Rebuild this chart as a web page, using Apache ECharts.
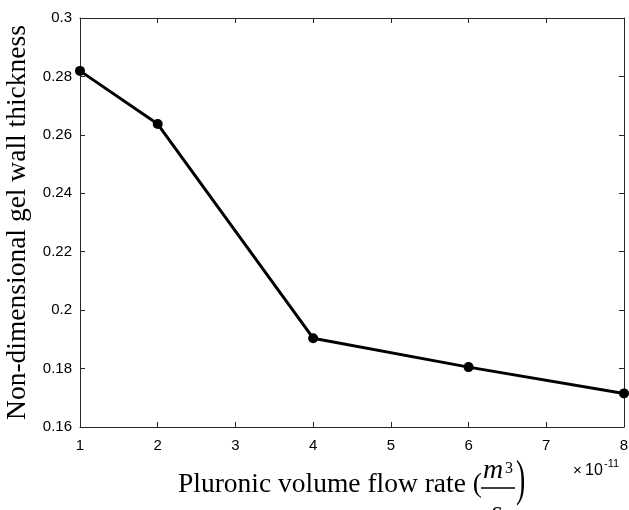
<!DOCTYPE html>
<html>
<head>
<meta charset="utf-8">
<script src="https://cdn.jsdelivr.net/npm/echarts@6/dist/echarts.min.js"></script>
<style>
  html, body { margin: 0; padding: 0; background: #fff; }
  #chart { width: 629px; height: 510px; }
</style>
</head>
<body>
<div id="chart"></div>
<script>
// Pluronic flow rate (units of 1e-11 m^3/s) vs non-dimensional gel wall thickness
const flowRate = [1, 2, 4, 6, 8];
const wallThickness = [0.2819, 0.2637, 0.1904, 0.1805, 0.1715];
const xTicks = [1, 2, 3, 4, 5, 6, 7, 8];
const yTicks = [0.16, 0.18, 0.2, 0.22, 0.24, 0.26, 0.28, 0.3];

const points = flowRate.map((x, i) => [x, wallThickness[i]]);

const serif = '"Liberation Serif", "DejaVu Serif", serif';
const sans = '"Liberation Sans", Arial, sans-serif';

const chart = echarts.init(document.getElementById('chart'), null, { renderer: 'canvas' });

const axisLine = { show: true, lineStyle: { color: '#262626', width: 1 } };
const tickIn = { show: true, inside: true, length: 5, lineStyle: { color: '#262626', width: 1 } };

chart.setOption({
  animation: false,
  backgroundColor: '#ffffff',
  grid: { left: 80, right: 5, top: 18, bottom: 83, containLabel: false, outerBoundsMode: 'none' },
  xAxis: [
    {
      type: 'value', min: xTicks[0], max: xTicks[xTicks.length - 1], interval: 1,
      position: 'bottom',
      axisLine, axisTick: tickIn, splitLine: { show: false },
      axisLabel: { color: '#000', fontFamily: sans, fontSize: 15, margin: 11,
                   formatter: v => String(v) }
    },
    {
      type: 'value', min: xTicks[0], max: xTicks[xTicks.length - 1], interval: 1,
      position: 'top',
      axisLine, axisTick: tickIn, splitLine: { show: false },
      axisLabel: { show: false }
    }
  ],
  yAxis: [
    {
      type: 'value', min: yTicks[0], max: yTicks[yTicks.length - 1], interval: 0.02,
      position: 'left',
      axisLine, axisTick: tickIn, splitLine: { show: false },
      axisLabel: { color: '#000', fontFamily: sans, fontSize: 15, margin: 8,
                   formatter: v => String(+v.toFixed(2)) },
      name: 'Non-dimensional gel wall thickness',
      nameLocation: 'middle', nameGap: 39,
      nameTextStyle: { color: '#000', fontFamily: serif, fontSize: 27.5 }
    },
    {
      type: 'value', min: yTicks[0], max: yTicks[yTicks.length - 1], interval: 0.02,
      position: 'right',
      axisLine, axisTick: tickIn, splitLine: { show: false },
      axisLabel: { show: false }
    }
  ],
  series: [
    {
      type: 'line',
      data: points,
      xAxisIndex: 0, yAxisIndex: 0,
      symbol: 'circle', symbolSize: 10,
      lineStyle: { color: '#000', width: 3 },
      itemStyle: { color: '#000' },
      z: 5
    }
  ],
  graphic: [
    // x-axis title with the m^3/s fraction
    { type: 'text', left: 178, top: 471,
      style: { text: 'Pluronic volume flow rate (', font: '27.5px ' + serif, fill: '#000' } },
    { type: 'text', left: 483, top: 457,
      style: { text: 'm', font: 'italic 28px ' + serif, fill: '#000' } },
    { type: 'text', left: 505, top: 461,
      style: { text: '3', font: '16px ' + serif, fill: '#000' } },
    { type: 'line', shape: { x1: 481, y1: 488, x2: 515, y2: 488 },
      style: { stroke: '#000', lineWidth: 1.5 } },
    { type: 'text', left: 491, top: 499,
      style: { text: 's', font: 'italic 28px ' + serif, fill: '#000' } },
    { type: 'text', x: 516, y: 482, scaleY: 1.8,
      style: { text: ')', font: '28px ' + serif, fill: '#000', verticalAlign: 'middle' } },
    // exponent multiplier
    { type: 'text', left: 573, top: 463,
      style: { text: '×', font: '15px ' + sans, fill: '#000' } },
    { type: 'text', left: 585, top: 463,
      style: { text: '10', font: '16px ' + sans, fill: '#000' } },
    { type: 'text', left: 604, top: 458,
      style: { text: '-11', font: '11px ' + sans, fill: '#000' } }
  ]
});
</script>
</body>
</html>
